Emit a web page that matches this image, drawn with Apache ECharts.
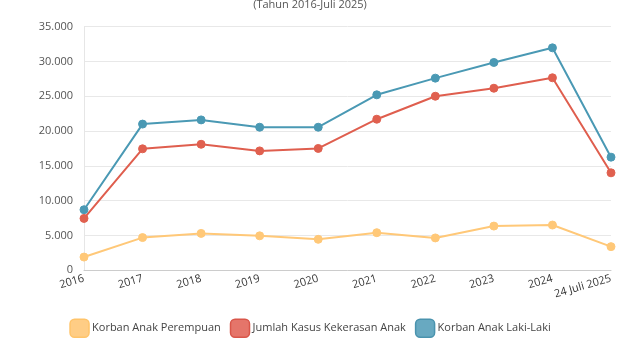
<!DOCTYPE html>
<html>
<head>
<meta charset="utf-8">
<script src="https://cdn.jsdelivr.net/npm/echarts@6/dist/echarts.min.js"></script>
<style>html,body{margin:0;padding:0;background:#fff}#c{width:620px;height:348px}</style>
</head>
<body>
<div id="c"></div>
<script>
var categories = ['2016','2017','2018','2019','2020','2021','2022','2023','2024','24 Juli 2025'];
var perempuan = [1900, 4700, 5300, 4950, 4450, 5400, 4650, 6350, 6500, 3400];
var jumlah = [7450, 17450, 18100, 17150, 17500, 21700, 25000, 26150, 27650, 14000];
var lakilaki = [8700, 21000, 21600, 20550, 20550, 25200, 27600, 29850, 31950, 16250];
var yTicks = [0, 5000, 10000, 15000, 20000, 25000, 30000, 35000];

var font = 'Open Sans';
var chart = echarts.init(document.getElementById('c'), null, {renderer: 'canvas'});
function fmt(v){ return v.toString().replace(/\B(?=(\d{3})+(?!\d))/g, '.'); }
chart.setOption({
  animation: false,
  textStyle: {fontFamily: font},
  title: {
    text: '(Tahun 2016-Juli 2025)',
    left: 'center', top: -6,
    textStyle: {fontFamily: font, fontSize: 11, fontWeight: 'normal', color: '#555'}
  },
  legend: {
    bottom: 5, left: 'center',
    itemWidth: 19, itemHeight: 18, itemGap: 9,
    icon: 'roundRect',
    textStyle: {fontFamily: font, fontSize: 11, color: '#444', padding: [0, 0, 0, -2]},
    data: [
      {name: 'Korban Anak Perempuan', itemStyle: {color: '#FFCD85', borderColor: '#FFC46A', borderWidth: 1.5}},
      {name: 'Jumlah Kasus Kekerasan Anak', itemStyle: {color: '#E5756A', borderColor: '#D9564A', borderWidth: 1.5}},
      {name: 'Korban Anak Laki-Laki', itemStyle: {color: '#68A9C1', borderColor: '#4A93AE', borderWidth: 1.5}}
    ]
  },
  grid: {left: 84, right: 9, top: 26.6, bottom: 77.7, containLabel: false},
  xAxis: {
    type: 'category', data: categories, boundaryGap: false,
    axisLine: {lineStyle: {color: '#cccccc'}},
    axisTick: {show: false},
    axisLabel: {rotate: 16, color: '#333', fontSize: 11, fontFamily: font, margin: 8, interval: 0}
  },
  yAxis: {
    type: 'value', min: yTicks[0], max: yTicks[yTicks.length-1], interval: 5000,
    axisLine: {show: true, lineStyle: {color: '#e6e6e6'}},
    axisTick: {show: false},
    splitLine: {lineStyle: {color: '#e8e8e8'}},
    axisLabel: {color: '#555', fontSize: 11, fontFamily: font, margin: 11, formatter: fmt}
  },
  series: [
    {name: 'Korban Anak Perempuan', type: 'line', data: perempuan, symbol: 'circle', symbolSize: 8,
     lineStyle: {width: 2, color: '#FFC878'},
     itemStyle: {color: '#FFC878', borderColor: '#FFC878', borderWidth: 1}},
    {name: 'Jumlah Kasus Kekerasan Anak', type: 'line', data: jumlah, symbol: 'circle', symbolSize: 8,
     lineStyle: {width: 2, color: '#DF5E4E'},
     itemStyle: {color: '#E0604F', borderColor: '#E0604F', borderWidth: 1}},
    {name: 'Korban Anak Laki-Laki', type: 'line', data: lakilaki, symbol: 'circle', symbolSize: 8,
     lineStyle: {width: 2, color: '#4A99B4'},
     itemStyle: {color: '#4A99B4', borderColor: '#4A99B4', borderWidth: 1}}
  ]
});
</script>
</body>
</html>
